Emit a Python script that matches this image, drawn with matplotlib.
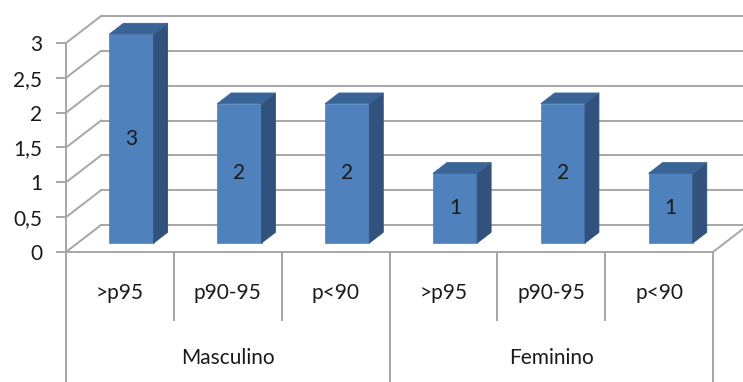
import numpy as np
import matplotlib
matplotlib.use("Agg")
import matplotlib.pyplot as plt
from matplotlib.patches import Polygon

plt.rcParams['font.family'] = ['Lato', 'DejaVu Sans']

grupos = ['Masculino', 'Feminino']
categorias = ['>p95', 'p90-95', 'p<90', '>p95', 'p90-95', 'p<90']
valores = [3, 2, 2, 1, 2, 1]
yticks = [0, 0.5, 1, 1.5, 2, 2.5, 3]
ytick_labels = ['0', '0,5', '1', '1,5', '2', '2,5', '3']

cor_frente = '#4F81BD'
cor_lado = '#30527D'
cor_topo = '#3A6496'
cor_grade = '#A6A6A6'
cor_texto = '#1a1a1a'
tam = 15

fig = plt.figure(figsize=(7.43, 3.82), dpi=100)
ax = fig.add_axes([66 / 743, 130 / 382, 647 / 743, 209 / 382])
n = len(categorias)
ax.set_xlim(0, n)
ax.set_ylim(0, 3)

# deslocamento da profundidade 3D (unidades de dados)
dx, dy = 0.325, 0.387
d0, d1 = 0.333, 0.73
largura = 0.41

# parede do fundo e parede lateral esquerda
for v in yticks:
    ax.plot([dx, n + 2 * dx], [v + dy, v + dy], color=cor_grade, lw=1.4, clip_on=False, zorder=1)
    ax.plot([0, dx], [v, v + dy], color=cor_grade, lw=1.4, clip_on=False, zorder=1)
# borda direita do piso
ax.plot([n, n + dx], [0, dy], color=cor_grade, lw=1.4, clip_on=False, zorder=1)

# barras 3D
for i, v in enumerate(valores):
    x0 = i + 0.5 - largura / 2 + d0 * dx
    x1 = x0 + largura
    y0 = d0 * dy
    y1 = v + d0 * dy
    ddx = (d1 - d0) * dx
    ddy = (d1 - d0) * dy
    frente = Polygon([[x0, y0], [x1, y0], [x1, y1], [x0, y1]], closed=True,
                     facecolor=cor_frente, edgecolor='#5B8AC2', lw=0.6, clip_on=False, zorder=3)
    lado = Polygon([[x1, y0], [x1 + ddx, y0 + ddy], [x1 + ddx, y1 + ddy], [x1, y1]], closed=True,
                   facecolor=cor_lado, edgecolor=cor_lado, lw=0.6, clip_on=False, zorder=3)
    topo = Polygon([[x0, y1], [x1, y1], [x1 + ddx, y1 + ddy], [x0 + ddx, y1 + ddy]], closed=True,
                   facecolor=cor_topo, edgecolor=cor_topo, lw=0.6, clip_on=False, zorder=3)
    for p in (frente, lado, topo):
        ax.add_patch(p)
    ax.text((x0 + x1) / 2, (y0 + y1) / 2, str(v), ha='center', va='center',
            fontsize=tam, color=cor_texto, zorder=4)

# eixo de categorias em dois níveis
linha_cat = -0.98
fundo = -1.9
for i in range(n + 1):
    y_fim = fundo if i % 3 == 0 else linha_cat
    ax.plot([i, i], [0, y_fim], color=cor_grade, lw=1.4, clip_on=False, zorder=1)
for i, c in enumerate(categorias):
    ax.text(i + 0.5, -0.59, c, ha='center', va='center', fontsize=tam, color=cor_texto)
for g, nome in enumerate(grupos):
    ax.text(g * 3 + 1.5, -1.52, nome, ha='center', va='center', fontsize=tam, color=cor_texto)

ax.set_xticks([])
ax.set_yticks(yticks)
ax.set_yticklabels(ytick_labels, fontsize=tam, color=cor_texto)
ax.tick_params(axis='y', direction='out', length=7, width=1.4, color=cor_grade, pad=10)
for s in ['top', 'right']:
    ax.spines[s].set_visible(False)
for s in ['left', 'bottom']:
    ax.spines[s].set_color(cor_grade)
    ax.spines[s].set_linewidth(1.4)
ax.patch.set_alpha(0)

fig.savefig('out.png', dpi=100)
